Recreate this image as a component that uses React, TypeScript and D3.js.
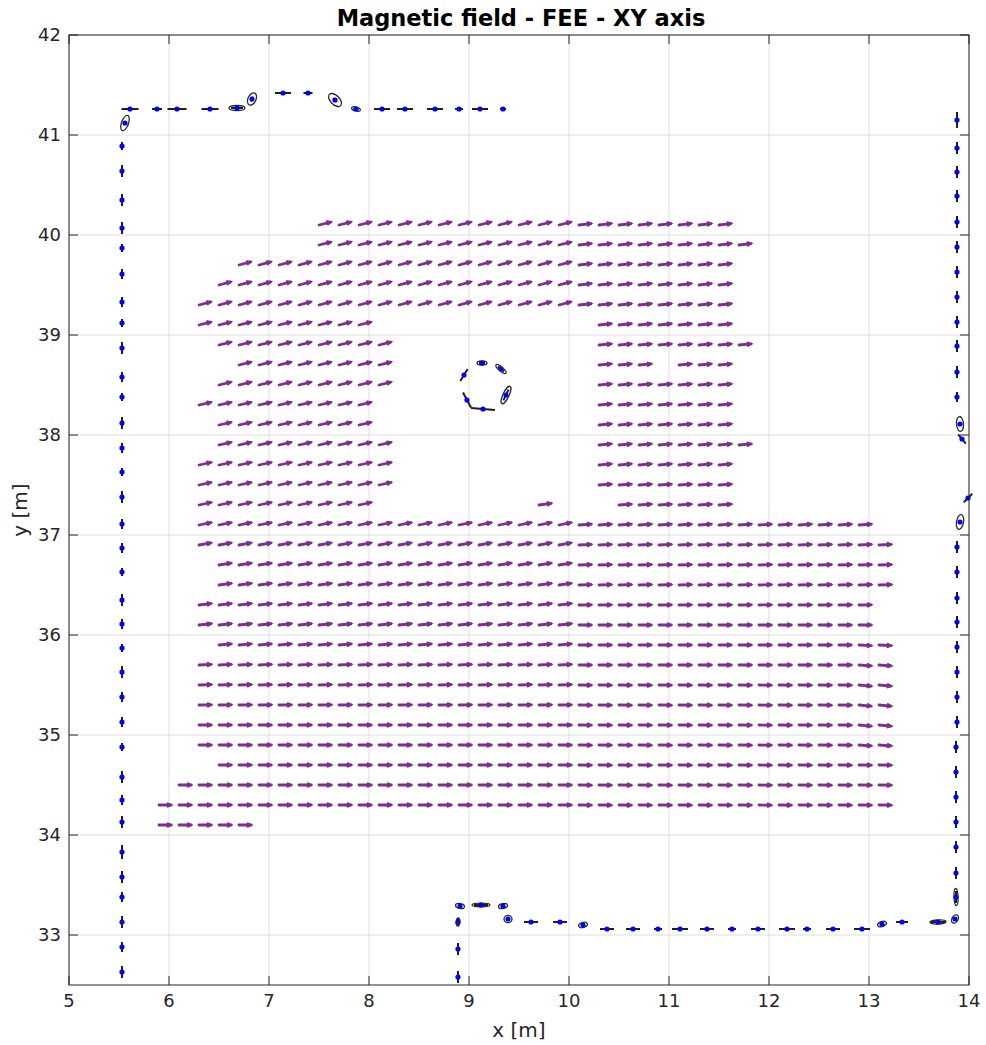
import React from 'react';
import * as d3 from 'd3';

const W = 986;
const H = 1045;
const xDomain: [number, number] = [5, 14];
const yDomain: [number, number] = [32.5, 42];
const xTicks = [5, 6, 7, 8, 9, 10, 11, 12, 13, 14];
const yTicks = [33, 34, 35, 36, 37, 38, 39, 40, 41, 42];

// Purple field arrows: row y, and per-row segments [xStart, xEnd, angleDeg] on a 0.2 m grid
const fieldRowY = [40.1, 39.9, 39.7, 39.5, 39.3, 39.1, 38.9, 38.7, 38.5, 38.3, 38.1, 37.9, 37.7, 37.5, 37.3,
  37.1, 36.9, 36.7, 36.5, 36.3, 36.1, 35.9, 35.7, 35.5, 35.3, 35.1, 34.9, 34.7, 34.5, 34.3, 34.1];
const fieldRowSegments: [number, number, number][][] = [
  [[7.5, 9.9, 14], [10.1, 11.5, 7]],
  [[7.5, 9.9, 14], [10.1, 11.7, 7]],
  [[6.7, 9.9, 15], [10.1, 11.5, 7]],
  [[6.5, 9.9, 15], [10.1, 11.5, 7]],
  [[6.3, 9.9, 15], [10.1, 11.5, 6]],
  [[6.3, 7.9, 14], [10.3, 11.5, 6]],
  [[6.5, 8.1, 14], [10.3, 11.7, 5]],
  [[6.7, 8.1, 14], [10.3, 10.7, 5], [11.1, 11.5, 5]],
  [[6.5, 8.1, 14], [10.3, 11.5, 5]],
  [[6.3, 7.9, 13], [10.3, 11.5, 5]],
  [[6.5, 7.9, 13], [10.3, 11.5, 5]],
  [[6.5, 8.1, 13], [10.3, 11.7, 5]],
  [[6.3, 8.1, 12], [10.3, 11.5, 5]],
  [[6.3, 8.1, 12], [10.3, 11.5, 4]],
  [[6.3, 7.9, 12], [9.7, 9.7, 8], [10.5, 11.5, 4]],
  [[6.3, 9.9, 11], [10.1, 12.9, 4]],
  [[6.3, 9.9, 10], [10.1, 13.1, 3]],
  [[6.5, 9.9, 9], [10.1, 13.1, 2]],
  [[6.5, 9.9, 8], [10.1, 13.1, 2]],
  [[6.3, 9.9, 7], [10.1, 12.9, 1]],
  [[6.3, 9.9, 6], [10.1, 12.9, 0]],
  [[6.5, 9.9, 5], [10.1, 12.7, 0], [12.9, 13.1, -3]],
  [[6.3, 9.9, 3], [10.1, 12.7, 0], [12.9, 13.1, -4]],
  [[6.3, 9.9, 2], [10.1, 12.7, -1], [12.9, 13.1, -5]],
  [[6.3, 9.9, 1], [10.1, 12.7, -1], [12.9, 13.1, -5]],
  [[6.3, 9.9, 0], [10.1, 12.7, -1], [12.9, 13.1, -5]],
  [[6.3, 9.9, 0], [10.1, 12.7, -1], [12.9, 13.1, -4]],
  [[6.5, 9.9, 0], [10.1, 13.1, -1]],
  [[6.1, 9.9, 0], [10.1, 13.1, -1]],
  [[5.9, 9.9, 0], [10.1, 13.1, -1]],
  [[5.9, 6.7, 0]],
];

// Sensor marks: [x, y, lineDirDeg, lineLen(m), ellipseRx(m), ellipseRy(m), ellipseDeg]
type Mark = [number, number, number, number, number?, number?, number?];
const topMarks: Mark[] = [
  [5.56, 41.12, 70, 0.0, 0.08, 0.035, 70],
  [5.61, 41.26, 0, 0.17],
  [5.88, 41.26, 0, 0.10],
  [6.08, 41.26, 0, 0.19],
  [6.41, 41.26, 0, 0.17],
  [6.68, 41.27, 0, 0.12, 0.08, 0.025, 0],
  [6.83, 41.36, 60, 0.05, 0.065, 0.04, 65],
  [7.14, 41.42, 0, 0.16],
  [7.39, 41.42, 0, 0.09],
  [7.66, 41.35, -45, 0.05, 0.08, 0.045, -45],
  [7.87, 41.26, -15, 0.05, 0.045, 0.02, -15],
  [8.13, 41.26, 0, 0.16],
  [8.36, 41.26, 0, 0.16],
  [8.66, 41.26, 0, 0.16],
  [8.90, 41.26, 0, 0.08],
  [9.11, 41.26, 0, 0.16],
  [9.34, 41.26, 0, 0.06],
];
const leftMarks: Mark[] = [
  [5.53, 40.89, 90, 0.08], [5.53, 40.64, 90, 0.12], [5.53, 40.35, 90, 0.12], [5.53, 40.07, 90, 0.12],
  [5.53, 39.87, 90, 0.08], [5.53, 39.61, 90, 0.10], [5.53, 39.33, 90, 0.10], [5.53, 39.12, 90, 0.08],
  [5.53, 38.87, 90, 0.12], [5.53, 38.58, 90, 0.10], [5.53, 38.38, 90, 0.08], [5.53, 38.12, 90, 0.12],
  [5.53, 37.87, 90, 0.10], [5.53, 37.63, 90, 0.08], [5.53, 37.38, 90, 0.12], [5.53, 37.11, 90, 0.10],
  [5.53, 36.87, 90, 0.10], [5.53, 36.63, 90, 0.08], [5.53, 36.35, 90, 0.12], [5.53, 36.11, 90, 0.10],
  [5.53, 35.87, 90, 0.08], [5.53, 35.63, 90, 0.12], [5.53, 35.38, 90, 0.10], [5.53, 35.13, 90, 0.10],
  [5.53, 34.88, 90, 0.08], [5.53, 34.58, 90, 0.12], [5.53, 34.35, 90, 0.10], [5.53, 34.13, 90, 0.12],
  [5.53, 33.83, 90, 0.14], [5.53, 33.58, 90, 0.12], [5.53, 33.38, 90, 0.10], [5.53, 33.13, 90, 0.12],
  [5.53, 32.88, 90, 0.10], [5.53, 32.63, 90, 0.12],
];
const rightMarks: Mark[] = [
  [13.88, 41.15, 90, 0.16], [13.88, 40.87, 90, 0.12], [13.88, 40.63, 90, 0.12], [13.88, 40.39, 90, 0.12],
  [13.88, 40.13, 90, 0.12], [13.88, 39.88, 90, 0.12], [13.88, 39.63, 90, 0.12], [13.88, 39.38, 90, 0.12],
  [13.88, 39.13, 90, 0.12], [13.88, 38.89, 90, 0.12], [13.88, 38.63, 90, 0.12], [13.88, 38.38, 90, 0.10],
  [13.91, 38.11, 90, 0.04, 0.075, 0.035, 95],
  [13.93, 37.96, -50, 0.12],
  [13.99, 37.37, 45, 0.12],
  [13.91, 37.13, 90, 0.04, 0.075, 0.035, 80],
  [13.88, 36.88, 90, 0.12], [13.88, 36.63, 90, 0.12], [13.88, 36.37, 90, 0.12], [13.88, 36.13, 90, 0.12],
  [13.88, 35.88, 90, 0.12], [13.88, 35.63, 90, 0.12], [13.88, 35.38, 90, 0.12], [13.88, 35.13, 90, 0.12],
  [13.87, 34.88, 90, 0.12], [13.87, 34.63, 90, 0.12], [13.87, 34.38, 90, 0.12], [13.87, 34.13, 90, 0.12],
  [13.87, 33.88, 90, 0.12], [13.87, 33.62, 90, 0.12],
  [13.87, 33.38, 90, 0.12, 0.085, 0.02, 92],
  [13.86, 33.16, 60, 0.04, 0.045, 0.03, 60],
];
const bottomMarks: Mark[] = [
  [13.69, 33.13, 0, 0.14, 0.08, 0.02, 2],
  [13.33, 33.13, 0, 0.12],
  [13.13, 33.11, 20, 0.04, 0.045, 0.025, 20],
  [12.93, 33.06, 0, 0.16], [12.64, 33.06, 0, 0.14], [12.38, 33.06, 0, 0.08], [12.18, 33.06, 0, 0.16],
  [11.89, 33.06, 0, 0.14], [11.63, 33.06, 0, 0.08], [11.38, 33.06, 0, 0.14], [11.11, 33.06, 0, 0.16],
  [10.89, 33.06, 0, 0.08], [10.64, 33.06, 0, 0.14], [10.38, 33.06, 0, 0.14],
  [10.14, 33.10, 15, 0.04, 0.045, 0.025, 15],
  [9.91, 33.13, 0, 0.14], [9.62, 33.13, 0, 0.14],
  [9.39, 33.16, 0, 0.02, 0.04, 0.037, 0],
  [9.34, 33.29, 10, 0.04, 0.045, 0.025, 10],
  [9.12, 33.30, 0, 0.14, 0.09, 0.018, 0],
  [8.91, 33.29, -10, 0.04, 0.045, 0.025, -10],
  [8.89, 33.13, 90, 0.06, 0.04, 0.018, 85],
  [8.89, 32.86, 90, 0.12],
  [8.89, 32.58, 90, 0.12],
];
const centerMarks: Mark[] = [
  [9.13, 38.72, 0, 0.06, 0.05, 0.02, 0],
  [9.32, 38.66, -40, 0.08, 0.065, 0.02, -40],
  [9.37, 38.40, 65, 0.12, 0.095, 0.03, 65],
  [9.14, 38.26, -5, 0.24],
  [8.98, 38.35, -62, 0.17],
  [8.95, 38.60, 58, 0.14],
];

const PURPLE = '#7E2F8E';
const FONT = '"DejaVu Sans", Arial, sans-serif';

export default function App() {
  const ml = 69, mr = 969, mt = 35, mb = 985;
  const x = d3.scaleLinear().domain(xDomain).range([ml, mr]);
  const y = d3.scaleLinear().domain(yDomain).range([mb, mt]);
  const pxPerM = x(1) - x(0);
  const arrowLen = 0.12 * pxPerM;

  const arrows: { x: number; y: number; a: number }[] = [];
  fieldRowY.forEach((ry, i) => {
    fieldRowSegments[i].forEach(([s, e, a]) => {
      for (let k = 0; s + k * 0.2 <= e + 1e-6; k++) {
        arrows.push({ x: +(s + k * 0.2).toFixed(2), y: ry, a });
      }
    });
  });

  const allMarks = [...topMarks, ...leftMarks, ...rightMarks, ...bottomMarks, ...centerMarks];
  const tickLen = 9;

  return (
    <svg width={W} height={H} style={{ position: 'absolute', left: 0, top: 0, background: '#fff' }}
      fontFamily={FONT}>
      <rect x={0} y={0} width={W} height={H} fill="#fff" />
      <rect x={ml} y={mt} width={mr - ml} height={mb - mt} fill="#fff" />
      {/* grid */}
      {xTicks.map((t) => (
        <line key={'gx' + t} x1={x(t)} x2={x(t)} y1={mt} y2={mb} stroke="#dedede" strokeWidth={1} />
      ))}
      {yTicks.map((t) => (
        <line key={'gy' + t} x1={ml} x2={mr} y1={y(t)} y2={y(t)} stroke="#dedede" strokeWidth={1} />
      ))}
      {/* purple arrows */}
      {arrows.map((d, i) => {
        const r = (d.a * Math.PI) / 180;
        const x0 = x(d.x), y0 = y(d.y);
        const x1 = x0 + arrowLen * Math.cos(r), y1 = y0 - arrowLen * Math.sin(r);
        const hl = 3.6, ha = 0.45;
        const hx1 = x1 - hl * Math.cos(r - ha), hy1 = y1 + hl * Math.sin(r - ha);
        const hx2 = x1 - hl * Math.cos(r + ha), hy2 = y1 + hl * Math.sin(r + ha);
        return (
          <g key={'a' + i} stroke={PURPLE} strokeLinecap="round" fill="none">
            <line x1={x0} y1={y0} x2={x1} y2={y1} strokeWidth={2.8} />
            <polyline points={`${hx1},${hy1} ${x1},${y1} ${hx2},${hy2}`} strokeWidth={2.2} />
          </g>
        );
      })}
      {/* sensor marks */}
      {allMarks.map((m, i) => {
        const [mx, my, dir, len, rx, ry, ed] = m;
        const cx = x(mx), cy = y(my);
        const r = (dir * Math.PI) / 180;
        const hl = (len * pxPerM) / 2;
        return (
          <g key={'m' + i}>
            {len > 0 && (
              <line x1={cx - hl * Math.cos(r)} y1={cy + hl * Math.sin(r)} x2={cx + hl * Math.cos(r)}
                y2={cy - hl * Math.sin(r)} stroke="#1f1f1f" strokeWidth={2} />
            )}
            {rx ? (
              <ellipse cx={cx} cy={cy} rx={rx * pxPerM} ry={(ry || 0) * pxPerM}
                transform={`rotate(${-(ed || 0)},${cx},${cy})`} fill="none" stroke="#2a2a2a" strokeWidth={1.3} />
            ) : null}
            <circle cx={cx} cy={cy} r={2.6} fill="#0000ff" />
          </g>
        );
      })}
      {/* axes box */}
      <rect x={ml} y={mt} width={mr - ml} height={mb - mt} fill="none" stroke="#262626" strokeWidth={1} />
      {xTicks.map((t) => (
        <g key={'tx' + t}>
          <line x1={x(t)} x2={x(t)} y1={mb} y2={mb - tickLen} stroke="#262626" />
          <line x1={x(t)} x2={x(t)} y1={mt} y2={mt + tickLen} stroke="#262626" />
          <text x={x(t)} y={mb + 22} textAnchor="middle" fontSize={18} fill="#262626">{t}</text>
        </g>
      ))}
      {yTicks.map((t) => (
        <g key={'ty' + t}>
          <line x1={ml} x2={ml + tickLen} y1={y(t)} y2={y(t)} stroke="#262626" />
          <line x1={mr} x2={mr - tickLen} y1={y(t)} y2={y(t)} stroke="#262626" />
          <text x={ml - 8} y={y(t)} dy="0.35em" textAnchor="end" fontSize={18} fill="#262626">{t}</text>
        </g>
      ))}
      <text x={(ml + mr) / 2} y={1037} textAnchor="middle" fontSize={20} fill="#262626">x [m]</text>
      <text transform={`translate(27,${(mt + mb) / 2}) rotate(-90)`} textAnchor="middle" fontSize={20} fill="#262626">y [m]</text>
      <text x={(ml + mr) / 2 + 2} y={26} textAnchor="middle" fontSize={22.5} fontWeight="bold" fill="#000">
        Magnetic field - FEE - XY axis
      </text>
    </svg>
  );
}
